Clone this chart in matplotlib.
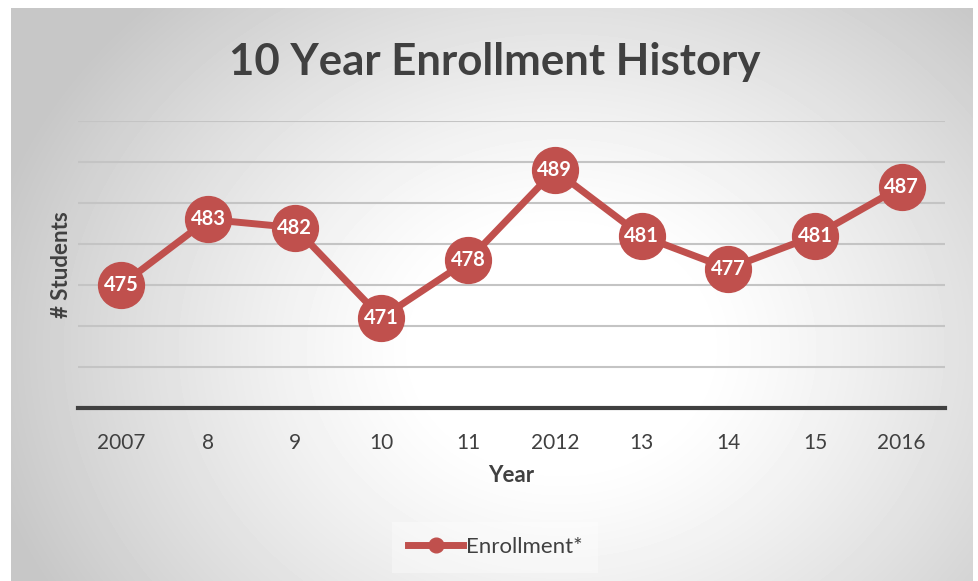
import numpy as np
import matplotlib
matplotlib.use("Agg")
import matplotlib.pyplot as plt

years = ["2007", "8", "9", "10", "11", "2012", "13", "14", "15", "2016"]
enrollment = [475, 483, 482, 471, 478, 489, 481, 477, 481, 487]

red = "#C0504D"
dark = "#404040"
plt.rcParams["font.family"] = ["Lato", "DejaVu Sans"]

fig = plt.figure(figsize=(9.79, 5.81), dpi=100)

# grey panel with a soft radial highlight
bg = fig.add_axes([11 / 979, 0, 962 / 979, 573 / 581], zorder=0)
W, H = 962, 573
xx, yy = np.meshgrid(np.arange(W), np.arange(H))
r = np.sqrt(((xx - 550) / 560.0) ** 2 + ((yy - 340) / 460.0) ** 2)
v = 1 - 0.22 * np.clip((r - 0.25) / 0.8, 0, 1) ** 1.2
bg.imshow(v, cmap="gray", vmin=0, vmax=1, aspect="auto", interpolation="bilinear")
bg.set_axis_off()

ax = fig.add_axes([78 / 979, 173 / 581, 867 / 979, 287 / 581], zorder=1)
ax.patch.set_alpha(0)
x = np.arange(len(years))
ax.plot(x, enrollment, color=red, lw=5, marker="o", ms=33, mec=red, mfc=red,
        label="Enrollment*", zorder=3)
for xi, val in zip(x, enrollment):
    ax.text(xi, val, str(val), color="white", ha="center", va="center",
            fontsize=14.5, fontweight="bold", zorder=4)

ax.set_xlim(-0.5, len(years) - 0.5)
ax.set_ylim(460, 495)
ax.set_yticks(np.arange(465, 496, 5))
ax.yaxis.grid(True, color="#C4C4C4", lw=1.5)
ax.set_axisbelow(True)
ax.tick_params(axis="y", left=False, labelleft=False)
ax.tick_params(axis="x", length=0, pad=18, labelsize=15, labelcolor=dark)
ax.set_xticks(x)
ax.set_xticklabels(years)
for s in ["top", "left", "right"]:
    ax.spines[s].set_visible(False)
ax.spines["bottom"].set_color(dark)
ax.spines["bottom"].set_linewidth(3)

ax.set_xlabel("Year", fontsize=16, fontweight="bold", color=dark, labelpad=9)
ax.set_ylabel("# Students", fontsize=16, fontweight="bold", color=dark, labelpad=4)
fig.text(0.505, 1 - 62 / 581, "10 Year Enrollment History", ha="center", va="center",
         fontsize=31.5, fontweight="bold", color=dark)

leg = ax.legend(loc="center", bbox_to_anchor=(0.481, -0.485), frameon=True,
                fontsize=16, markerscale=0.32, handlelength=2.5, handletextpad=0.1,
                labelcolor=dark)
leg.get_frame().set_facecolor("white")
leg.get_frame().set_alpha(0.35)
leg.get_frame().set_edgecolor("none")
leg.get_frame().set_boxstyle("square", pad=0.3)
leg.legend_handles[0].set_linewidth(5)

fig.savefig("out.png", dpi=100)
